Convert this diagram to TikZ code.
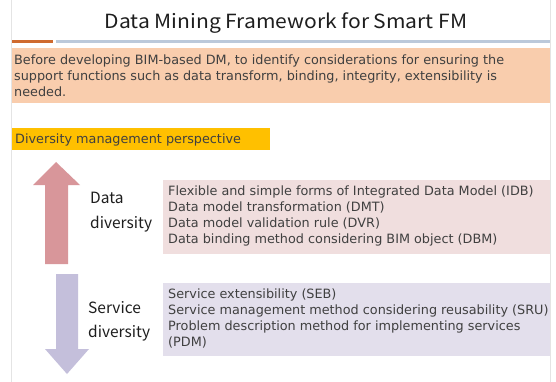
\documentclass[tikz,border=0pt]{standalone}
\usepackage{fontspec}
\setmainfont{DejaVu Sans}
\newfontfamily\kofont{Noto Sans CJK KR}
\newfontfamily\kotitle[FakeStretch=1.08]{Noto Sans CJK KR}
\definecolor{txt}{HTML}{404040}
\definecolor{titletxt}{HTML}{1E1E1E}
\definecolor{peach}{HTML}{F9CDAD}
\definecolor{lineorange}{HTML}{CF6A2E}
\definecolor{lineblue}{HTML}{BCC9DA}
\definecolor{barYellow}{HTML}{FFC000}
\definecolor{redarrow}{HTML}{D8969A}
\definecolor{pinkbox}{HTML}{F0DEDE}
\definecolor{purplearrow}{HTML}{C4BFDB}
\definecolor{purplebox}{HTML}{E3DFEC}
\definecolor{frame}{HTML}{E4E4E4}
\begin{document}
\begin{tikzpicture}[x=1pt,y=-1pt,
  body/.style={anchor=north west,inner sep=0pt,align=left,text=txt,font=\fontsize{12.8}{16}\selectfont},
  side/.style={anchor=north west,inner sep=0pt,align=left,text=titletxt,font=\kofont\fontsize{15.5}{24.5}\selectfont}]
\useasboundingbox (0,0) rectangle (556,382);
\fill[white] (0,0) rectangle (556,382);
% slide frame lines
\draw[frame,line width=0.8pt] (11,0) -- (11,382);
\draw[frame,line width=0.8pt] (550,0) -- (550,382);
% title
\node[text=titletxt,font=\kotitle\fontsize{19.5}{22}\selectfont,inner sep=0pt] (title) at (286,23) {Data Mining Framework for Smart FM};
\fill[lineorange] (12,40.5) rectangle (53,43);
\fill[lineblue] (56,40.5) rectangle (550,43);
% peach box
\fill[peach] (12,48) rectangle (550,103);
\node[body] (intro) at (14,55) {Before developing BIM-based DM, to identify considerations for ensuring the\\support functions such as data transform, binding, integrity, extensibility is\\needed.};
% yellow bar
\fill[barYellow] (12,128) rectangle (270,150);
\node[body,anchor=west] (persp) at (15,139.5) {Diversity management perspective};
% red arrow up
\fill[redarrow] (56,162) -- (80,185) -- (68,185) -- (68,264) -- (45,264) -- (45,185) -- (33,185) -- cycle;
% purple arrow down
\fill[purplearrow] (67,374) -- (89,349) -- (78,349) -- (78,274) -- (56,274) -- (56,349) -- (45,349) -- cycle;
% data diversity
\node[side] (dlab) at (90,192) {Data\\diversity};
\fill[pinkbox] (163,180) rectangle (550,254);
\node[body] (dlist) at (168,186) {Flexible and simple forms of Integrated Data Model (IDB)\\Data model transformation (DMT)\\Data model validation rule (DVR)\\Data binding method considering BIM object (DBM)};
% service diversity
\node[side] (slab) at (88,301) {Service\\diversity};
\fill[purplebox] (163,283) rectangle (550,356);
\node[body] (slist) at (168,289) {Service extensibility (SEB)\\Service management method considering reusability (SRU)\\Problem description method for implementing services\\(PDM)};
\end{tikzpicture}
\end{document}
